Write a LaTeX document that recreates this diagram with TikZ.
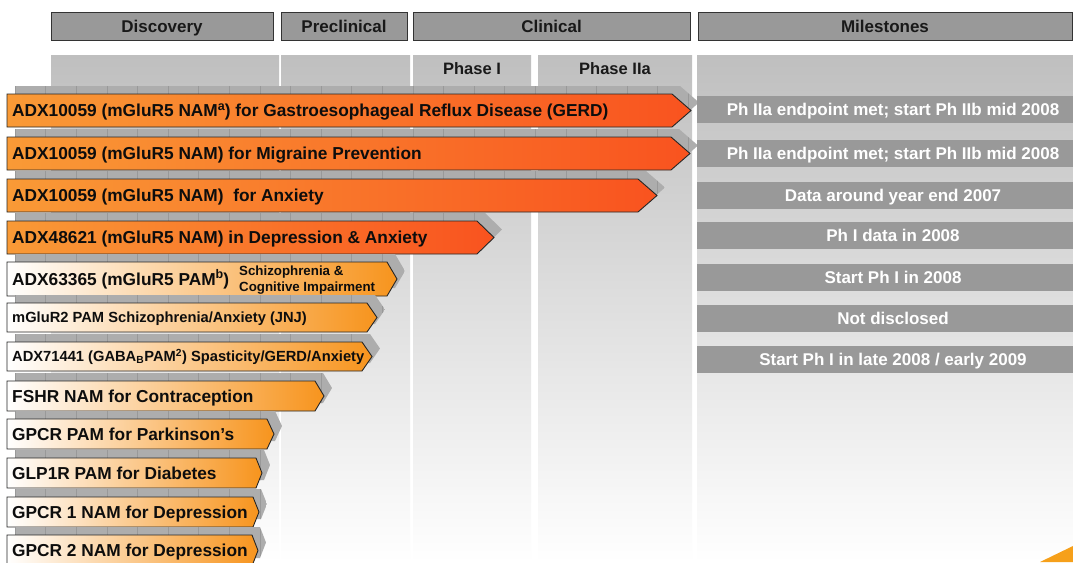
\documentclass[tikz,border=0pt]{standalone}
\usepackage{fontspec}
\setmainfont{Liberation Sans}
\definecolor{hdr}{HTML}{999999}
\definecolor{hdrline}{HTML}{333333}
\definecolor{colg}{HTML}{BFBFBF}
\definecolor{shd}{HTML}{ADADAD}
\definecolor{shdline}{HTML}{999999}
\definecolor{orL}{HTML}{F99A36}
\definecolor{orR}{HTML}{F9531F}
\definecolor{orP}{HTML}{F7941D}
\definecolor{wedge}{HTML}{F6A01A}
\newcommand{\bigsup}[1]{\raisebox{6.5pt}{\fontsize{12.5}{12.5}\selectfont #1}}
\tikzset{
  hdrbox/.style={draw=hdrline, line width=0.9pt, fill=hdr, text=black!90, inner sep=0pt,
    font=\fontsize{17}{19}\selectfont\bfseries, minimum height=28pt, text height=12.2pt, text depth=0pt},
  phaselbl/.style={text=black!90, font=\fontsize{16.5}{18}\selectfont\bfseries, inner sep=0pt,
    text height=11.8pt, text depth=0pt},
  column/.style={top color=colg, bottom color=white},
  barline/.style={draw=black!85, line width=0.9pt},
  hotbar/.style={left color=orL, right color=orR},
  coolbar/.style={left color=white, middle color=orP!32!white, right color=orP},
  bartext/.style={anchor=west, inner sep=0pt, text=black!95, font=\fontsize{17.3}{19}\selectfont\bfseries,
    text height=12.4pt, text depth=0pt},
  smalltext/.style={font=\fontsize{14.7}{16}\selectfont\bfseries, text height=10.5pt},
  mstone/.style={fill=hdr, text=white, inner sep=0pt, minimum width=392pt, minimum height=27pt,
    font=\fontsize{17}{19}\selectfont\bfseries, text height=12.2pt, text depth=0pt},
}
% #1 name, #2 top, #3 bottom, #4 body end, #5 tip, #6 fill style, #7 text style, #8 text
\newcommand{\pipebar}[8]{%
  \begin{scope}
    \clip (15,#2-8) -- (#4+8,#2-8) -- (#5+8,{(#2+#3)/2-8}) -- (#4+8,#3-8) -- (15,#3-8) -- cycle;
    \fill[shd] (0,#2-8) rectangle (#5+8,#3);
    \foreach \xx in {15,45.6,...,700} \draw[shdline, line width=0.5pt] (\xx,#2-8) -- (\xx,#3);
  \end{scope}
  \draw[barline,#6] (7,#2) -- (#4,#2) -- (#5,{(#2+#3)/2}) -- (#4,#3) -- (7,#3) -- cycle;
  \node[bartext,#7] (#1) at (12,{(#2+#3)/2}) {#8};
}
\begin{document}
\begin{tikzpicture}[x=1pt,y=-1pt]
\clip (0,0) rectangle (1073,562);
\fill[white] (0,0) rectangle (1073,562);
% column backgrounds
\fill[column] (51,55) rectangle (279,562);
\fill[column] (281,55) rectangle (410,562);
\fill[column] (413,55) rectangle (531,562);
\fill[column] (538,55) rectangle (692,562);
\fill[column] (697,55) rectangle (1073,562);
% headers
\node[hdrbox, minimum width=222pt] (hdisc) at (162,26) {Discovery};
\node[hdrbox, minimum width=126pt] (hpre) at (344,26) {Preclinical};
\node[hdrbox, minimum width=277pt] (hclin) at (551.5,26) {Clinical};
\node[hdrbox, minimum width=374pt] (hmile) at (885,26) {Milestones};
\node[phaselbl] (ph1) at (472,68.5) {Phase I};
\node[phaselbl] (ph2a) at (615,68.5) {Phase IIa};
% bars
\pipebar{r1}{94}{127}{672}{691}{hotbar}{}{ADX10059 (mGluR5 NAM\bigsup{a}) for Gastroesophageal Reflux Disease (GERD)}
\pipebar{r2}{137}{170}{671}{690}{hotbar}{}{ADX10059 (mGluR5 NAM) for Migraine Prevention}
\pipebar{r3}{179}{212}{638}{657}{hotbar}{}{ADX10059 (mGluR5 NAM)\ \ for Anxiety}
\pipebar{r4}{221}{254}{477}{494}{hotbar}{}{ADX48621 (mGluR5 NAM) in Depression \& Anxiety}
\pipebar{r5}{262}{296}{387}{397}{coolbar}{}{ADX63365 (mGluR5 PAM\bigsup{b})}
\node[anchor=west, inner sep=0pt, align=left, text=black!95, font=\fontsize{13.3}{15.5}\selectfont\bfseries] (r5b) at (239,280) {Schizophrenia \&\\Cognitive Impairment};
\pipebar{r6}{303}{332}{367}{377}{coolbar}{smalltext}{mGluR2 PAM Schizophrenia/Anxiety (JNJ)}
\pipebar{r7}{342}{371}{362}{372}{coolbar}{smalltext}{ADX71441 (GABA\textsubscript{B}PAM\textsuperscript{2}) Spasticity/GERD/Anxiety}
\pipebar{r8}{381}{411}{315}{324}{coolbar}{}{FSHR NAM for Contraception}
\pipebar{r9}{419}{449}{267}{274}{coolbar}{}{GPCR PAM for Parkinson’s}
\pipebar{r10}{458}{488}{256}{262}{coolbar}{}{GLP1R PAM for Diabetes}
\pipebar{r11}{497}{527}{253}{259}{coolbar}{}{GPCR 1 NAM for Depression}
\pipebar{r12}{535}{566}{252}{258}{coolbar}{}{GPCR 2 NAM for Depression}
% milestones
\node[mstone] (m1) at (893,109.5) {Ph IIa endpoint met; start Ph IIb mid 2008};
\node[mstone] (m2) at (893,153.5) {Ph IIa endpoint met; start Ph IIb mid 2008};
\node[mstone] (m3) at (893,195.5) {Data around year end 2007};
\node[mstone] (m4) at (893,235.5) {Ph I data in 2008};
\node[mstone] (m5) at (893,277.5) {Start Ph I in 2008};
\node[mstone] (m6) at (893,318) {Not disclosed};
\node[mstone] (m7) at (893,359.5) {Start Ph I in late 2008 / early 2009};
% corner wedge
\fill[wedge] (1040,562) -- (1073,546) -- (1073,562) -- cycle;
\end{tikzpicture}
\end{document}
